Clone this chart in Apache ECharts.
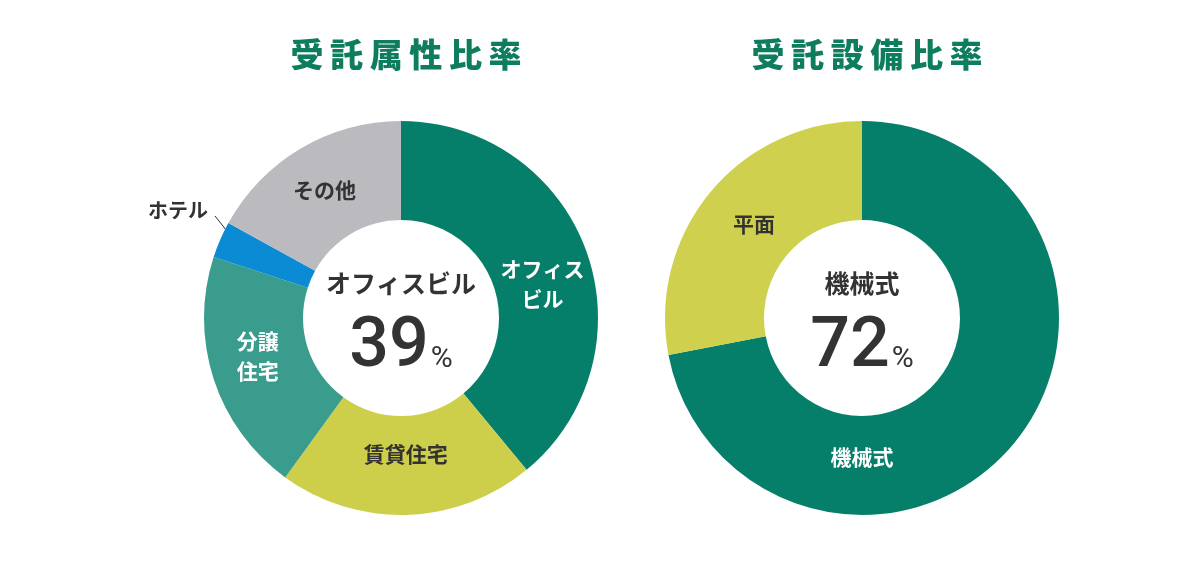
<!DOCTYPE html>
<html lang="ja">
<head>
<meta charset="UTF-8">
<title>受託属性比率 / 受託設備比率</title>
<script src="https://cdn.jsdelivr.net/npm/echarts@6/dist/echarts.min.js"></script>
<style>
  html, body { margin: 0; padding: 0; background: #fff; }
  #chart { width: 1200px; height: 572px; }
</style>
</head>
<body>
<div id="chart"></div>
<script>
// 受託属性比率
var attrNames = ['オフィスビル', '賃貸住宅', '分譲住宅', 'ホテル', 'その他'];
var attrLabels = ['オフィス\nビル', '賃貸住宅', '分譲\n住宅', 'ホテル', 'その他'];
var attrValues = [39, 21, 20, 3, 17];
var attrColors = ['#067f6a', '#cdcf4b', '#3a9c8c', '#0b8bd3', '#bbbabf'];
var attrLabelColors = ['#fff', '#333', '#fff', '#333', '#333'];

// 受託設備比率
var equipNames = ['機械式', '平面'];
var equipValues = [72, 28];
var equipColors = ['#067f6a', '#cfd04d'];
var equipLabelColors = ['#fff', '#333'];

var FONT = '"Noto Sans CJK JP", "Noto Sans", sans-serif';
var NUM_FONT = 'Roboto, "Noto Sans", sans-serif';
var R = [98, 197];
var leftC = [401, 318];
var rightC = [862, 318];
// small vertical nudges for the inside labels of the left ring
var attrLabelShift = [17, -14, -8, 0, 2];

function spaced(s) { return s.split('').join('\u2009'); }

var chart = echarts.init(document.getElementById('chart'));

function buildData(names, values, colors, labelColors, labels) {
  return names.map(function (n, i) {
    return {
      name: n,
      value: values[i],
      itemStyle: { color: colors[i] },
      label: { color: labelColors[i], formatter: labels ? labels[i] : n }
    };
  });
}

var attrData = buildData(attrNames, attrValues, attrColors, attrLabelColors, attrLabels);
attrData[3].label = {
  position: 'outside', color: '#333', formatter: 'ホテル',
  fontFamily: FONT, fontSize: 20, fontWeight: 'bold'
};
attrData[3].labelLine = { show: true, length: 8, length2: 4, lineStyle: { color: '#333', width: 1 } };

var equipData = buildData(equipNames, equipValues, equipColors, equipLabelColors);

function centerText(x, y, name, pct) {
  return {
    type: 'text',
    x: x, y: y,
    style: {
      text: '{n|' + name + '}\n{v|' + pct + '}{p|%}',
      align: 'center',
      verticalAlign: 'middle',
      rich: {
        n: { fontFamily: FONT, fontSize: 25, fontWeight: 'bold', fill: '#333', lineHeight: 58 },
        v: { fontFamily: NUM_FONT, fontSize: 70, fontWeight: 500, fill: '#333', lineHeight: 72 },
        p: { fontFamily: NUM_FONT, fontSize: 30, fontWeight: 400, fill: '#333', lineHeight: 72, padding: [22, 0, 0, 2] }
      }
    }
  };
}

var labelBase = {
  position: 'inside',
  fontFamily: FONT, fontSize: 21, fontWeight: 'bold', lineHeight: 30
};

var option = {
  backgroundColor: '#fff',
  animation: false,
  title: [
    {
      text: spaced('受託属性比率'),
      left: leftC[0], top: 33, textAlign: 'center',
      textStyle: { fontFamily: FONT, fontSize: 33, fontWeight: 900, color: '#0e7d5e' }
    },
    {
      text: spaced('受託設備比率'),
      left: rightC[0], top: 33, textAlign: 'center',
      textStyle: { fontFamily: FONT, fontSize: 33, fontWeight: 900, color: '#0e7d5e' }
    }
  ],
  series: [
    {
      type: 'pie',
      center: leftC,
      radius: R,
      startAngle: 90,
      clockwise: true,
      silent: true,
      avoidLabelOverlap: false,
      label: labelBase,
      labelLine: { show: false },
      labelLayout: function (params) {
        if (params.dataIndex === 3) {
          // ホテル: label up-left, short leader line into the slice
          var lx = leftC[0] - 193, ly = leftC[1] - 108;
          return {
            x: lx, y: ly, align: 'right', verticalAlign: 'middle',
            labelLinePoints: [
              [leftC[0] - 186, leftC[1] - 102],
              [leftC[0] - 178, leftC[1] - 92],
              [leftC[0] - 170, leftC[1] - 81]
            ]
          };
        }
        return { dy: attrLabelShift[params.dataIndex] };
      },
      data: attrData
    },
    {
      type: 'pie',
      center: rightC,
      radius: R,
      startAngle: 90,
      clockwise: true,
      silent: true,
      avoidLabelOverlap: false,
      label: labelBase,
      labelLine: { show: false },
      labelLayout: function (params) {
        // 機械式 label sits at the bottom of the ring
        if (params.dataIndex === 0) {
          return { x: rightC[0], y: rightC[1] + 139 };
        }
        return { dy: 2, dx: 8 };
      },
      data: equipData
    }
  ],
  graphic: [
    centerText(leftC[0], leftC[1] + 1, 'オフィスビル', attrValues[0]),
    centerText(rightC[0], rightC[1] + 1, '機械式', equipValues[0])
  ]
};

chart.setOption(option);
</script>
</body>
</html>
